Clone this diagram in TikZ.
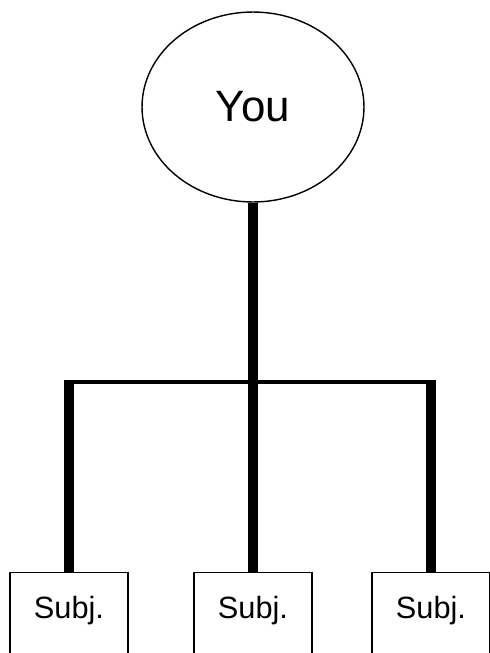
\documentclass[tikz,border=0pt]{standalone}
\usepackage{fontspec}
\setmainfont{Liberation Sans}
\usetikzlibrary{shapes.geometric}
\begin{document}
\begin{tikzpicture}[
  x=0.02cm, y=-0.02cm,
  you/.style={draw, ellipse, line width=0.8pt, minimum width=4.44cm, minimum height=3.8cm, font=\fontsize{25}{30}\selectfont},
  subj/.style={draw, line width=0.8pt, anchor=north, inner sep=0pt, minimum width=2.36cm, text height=0.92cm, text depth=1.1cm, font=\fontsize{17.5}{21}\selectfont},
  stem/.style={line width=5.6pt},
  bar/.style={line width=2.8pt}
]
\useasboundingbox (0,0) rectangle (490,653);
\clip (0,0) rectangle (490,653);

\node[you] (you) at (253,107) {You};
\node[subj] (s1) at (69,572) {Subj.};
\node[subj] (s2) at (253,572) {Subj.};
\node[subj] (s3) at (431,572) {Subj.};

\coordinate (j2) at (253,382);
\coordinate (barL) at (64,382);
\coordinate (barR) at (436,382);

\draw[stem] (you.south) -- (j2);
\draw[bar] (barL) -- (barR);
\draw[stem] (s1.north |- j2) -- (s1.north);
\draw[stem] (j2) -- (s2.north);
\draw[stem] (s3.north |- j2) -- (s3.north);
\end{tikzpicture}
\end{document}
